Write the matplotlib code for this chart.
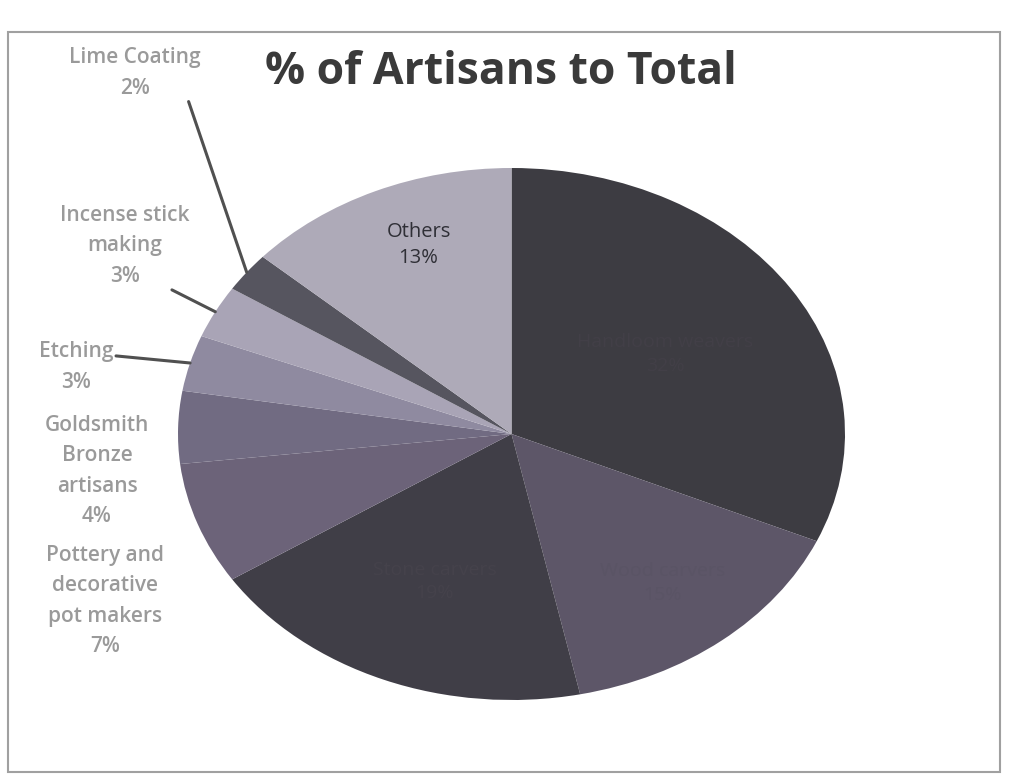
import matplotlib
matplotlib.use("Agg")
import matplotlib.pyplot as plt
from matplotlib.patches import Rectangle
import numpy as np

plt.rcParams['font.family'] = ['Open Sans', 'DejaVu Sans']

# ---- data (clockwise from 12 o'clock) ----
categories = ["Handloom weavers", "Wood carvers", "Stone carvers",
              "Pottery and\ndecorative\npot makers", "Goldsmith\nBronze\nartisans",
              "Etching", "Incense stick\nmaking", "Lime Coating", "Others"]
shares = [31.6, 15.1, 19.1, 7.4, 4.4, 3.4, 3.2, 2.4, 13.4]
colors = ["#3d3c42", "#5d5668", "#403e47", "#6c6379", "#716b82",
          "#8f8aa0", "#a9a4b6", "#56555f", "#aeaab8"]

W, H = 1011, 784
fig = plt.figure(figsize=(W / 100, H / 100), dpi=100)
fig.patch.set_facecolor("white")

# faint scan frame
fig.add_artist(Rectangle((8 / W, 12 / H), 992 / W, 740 / H, transform=fig.transFigure,
                         fill=False, edgecolor="#a0a0a0", lw=1.5))

# pie axes sized to the elliptical pie
ax = fig.add_axes([178 / W, 1 - 700 / H, 667 / W, 532 / H])
wedges, _ = ax.pie(shares, colors=colors, startangle=90, counterclock=False,
                   radius=1.0, wedgeprops=dict(linewidth=0))
ax.set_aspect('auto')
ax.set_xlim(-1, 1)
ax.set_ylim(-1, 1)
ax.axis('off')

total = sum(shares)
pct = [f"{round(v / total * 100)}%" for v in shares]


def mid_point(w, r=1.0):
    a = np.deg2rad((w.theta1 + w.theta2) / 2)
    return r * np.cos(a), r * np.sin(a)


# inside labels on dark wedges (barely visible, as in the scan)
inside = {0: (0.55, "#423f47"), 1: (0.72, "#5a5465"), 2: (0.6, "#45424b")}
for i, (r, c) in inside.items():
    x, y = mid_point(wedges[i], r)
    ax.text(x, y, f"{categories[i]}\n{pct[i]}", ha='center', va='center',
            fontsize=14, color=c, linespacing=1.4)

# Others label
ox, oy = mid_point(wedges[8], 0.78)
ax.text(ox + 0.04, oy, f"{categories[8]}\n{pct[8]}", ha='center', va='center',
        fontsize=14.5, color="#2f2f36", linespacing=1.4)

label_color = "#9a9a9a"
fs = 15
ls = 1.6
outer = {
    7: ((135, H - 73), (0.9, 0.0)),
    6: ((125, H - 246), (0.82, 0.0)),
    5: ((76, H - 367), (1.0, 0.72)),
}
for i, (pos, rel) in outer.items():
    xy = mid_point(wedges[i], 1.0)
    ax.annotate(f"{categories[i]}\n{pct[i]}", xy=xy, xycoords='data',
                xytext=pos, textcoords='figure pixels', ha='center', va='center',
                fontsize=fs, fontweight='semibold', color=label_color, linespacing=ls,
                arrowprops=dict(arrowstyle='-', color="#505050", lw=2.2,
                                shrinkA=0, shrinkB=0, relpos=rel))

for i, pos in {4: (97, H - 471), 3: (105, H - 601)}.items():
    fig.text(pos[0] / W, pos[1] / H, f"{categories[i]}\n{pct[i]}", ha='center',
             va='center', fontsize=fs, fontweight='semibold', color=label_color,
             linespacing=ls)

fig.text(501 / W, 1 - 72 / H, "% of Artisans to Total", ha='center', va='center',
         fontsize=32, fontweight='bold', color="#3a3a3a")

fig.savefig("out.png", dpi=100, facecolor="white")
